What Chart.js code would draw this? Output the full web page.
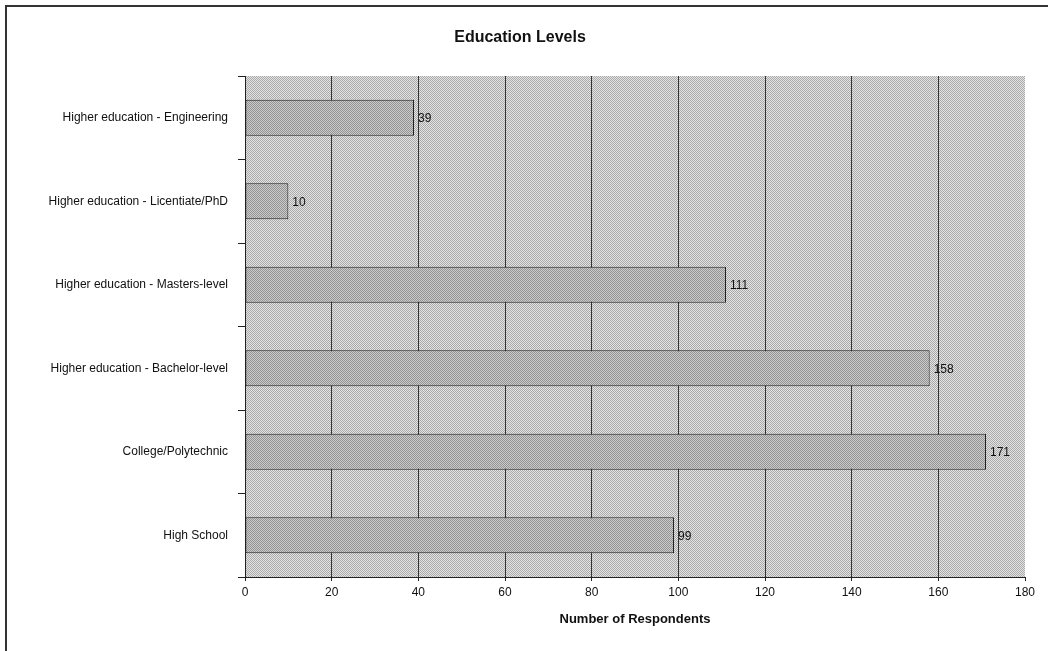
<!DOCTYPE html>
<html>
<head>
<meta charset="utf-8">
<title>Education Levels</title>
<script src="https://cdn.jsdelivr.net/npm/chart.js@4.4.1/dist/chart.umd.min.js"></script>
<style>
  html, body { margin: 0; padding: 0; background: #fff; }
  #wrap { width: 1048px; height: 651px; position: relative; }
</style>
</head>
<body>
<div id="wrap"><canvas id="chart" width="1048" height="651"></canvas></div>
<script>
// Education level categories, top to bottom
const categories = [
  'Higher education - Engineering',
  'Higher education - Licentiate/PhD',
  'Higher education - Masters-level',
  'Higher education - Bachelor-level',
  'College/Polytechnic',
  'High School'
];
// Number of respondents per category
const respondents = [39, 10, 111, 158, 171, 99];
// Axis range and step
const xMin = 0;
const xMax = 180;
const xStep = 20;

const FONT = "'Liberation Sans', Arial, sans-serif";

// Small checkerboard tiles give the dithered grey look
function dither(light, dark) {
  const c = document.createElement('canvas');
  c.width = 2; c.height = 2;
  const g = c.getContext('2d');
  g.fillStyle = light; g.fillRect(0, 0, 2, 2);
  g.fillStyle = dark; g.fillRect(0, 0, 1, 1); g.fillRect(1, 1, 1, 1);
  return g.createPattern(c, 'repeat');
}

const ctx = document.getElementById('chart').getContext('2d');
const plotFill = dither('#e4e4e4', '#a9a9a9');
const barFill = dither('#cbcbcb', '#939393');

// Frame, plot background, title and value labels
const decorations = {
  id: 'decorations',
  beforeDraw(chart) {
    const { ctx, chartArea: a } = chart;
    ctx.save();
    ctx.fillStyle = '#fff';
    ctx.fillRect(0, 0, chart.width, chart.height);
    ctx.fillStyle = plotFill;
    ctx.fillRect(a.left, a.top, a.right - a.left, a.bottom - a.top);
    ctx.restore();
  },
  afterDraw(chart) {
    const { ctx } = chart;
    ctx.save();
    // outer frame (top and left edges)
    ctx.strokeStyle = '#333';
    ctx.lineWidth = 2;
    ctx.beginPath();
    ctx.moveTo(1048, 6);
    ctx.lineTo(6, 6);
    ctx.lineTo(6, 651);
    ctx.stroke();
    // title
    ctx.fillStyle = '#111';
    ctx.font = 'bold 16px ' + FONT;
    ctx.textAlign = 'center';
    ctx.textBaseline = 'middle';
    ctx.fillText('Education Levels', 520, 38);
    // value labels at bar ends
    ctx.font = '12px ' + FONT;
    ctx.textAlign = 'left';
    const meta = chart.getDatasetMeta(0);
    meta.data.forEach((bar, i) => {
      ctx.fillText(String(respondents[i]), bar.x + 4, bar.y + 1);
    });
    ctx.restore();
  }
};

new Chart(ctx, {
  type: 'bar',
  data: {
    labels: categories,
    datasets: [{
      data: respondents,
      backgroundColor: barFill,
      borderColor: '#222',
      borderWidth: 1,
      borderSkipped: false,
      barPercentage: 0.43,
      categoryPercentage: 1.0
    }]
  },
  options: {
    indexAxis: 'y',
    responsive: false,
    animation: false,
    layout: { padding: { top: 76, right: 23, left: 0, bottom: 0 } },
    plugins: {
      legend: { display: false },
      title: { display: false },
      tooltip: { enabled: false }
    },
    scales: {
      x: {
        min: xMin,
        max: xMax,
        ticks: {
          stepSize: xStep,
          color: '#111',
          font: { family: FONT, size: 12 },
          padding: 4,
          maxRotation: 0
        },
        grid: {
          color: (c) => (c.index === 0 || c.index === (xMax - xMin) / xStep) ? 'rgba(0,0,0,0)' : '#333',
          tickColor: '#222',
          tickLength: 4,
          lineWidth: 1
        },
        border: { display: true, color: '#222', width: 1 },
        title: {
          display: true,
          text: 'Number of Respondents',
          color: '#111',
          font: { family: FONT, size: 13, weight: 'bold' },
          padding: { top: 0, bottom: 24 }
        },
        afterFit(scale) { scale.height = 74; }
      },
      y: {
        ticks: {
          color: '#111',
          font: { family: FONT, size: 12 },
          padding: 10
        },
        grid: {
          drawOnChartArea: false,
          tickColor: '#222',
          tickLength: 7
        },
        border: { display: true, color: '#222', width: 1 },
        afterFit(scale) { scale.width = 245; }
      }
    }
  },
  plugins: [decorations]
});
</script>
</body>
</html>
